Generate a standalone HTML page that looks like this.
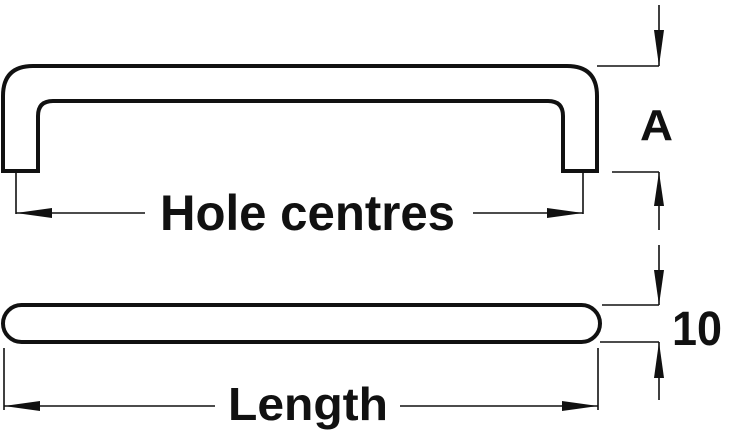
<!DOCTYPE html>
<html><head><style>body{margin:0;background:#fff}svg{display:block}text{font-family:"Liberation Sans",sans-serif;font-weight:bold;fill:#111}</style></head><body>
<svg width="733" height="433" viewBox="0 0 733 433" xmlns="http://www.w3.org/2000/svg">
<g fill="none" stroke="#111" stroke-width="4">
<path d="M3 171 V96 Q3 66 33 66 H567 Q597 66 597 96 V171 H563 V116 Q563 101 548 101 H53 Q38 101 38 116 V171 Z"/>
<rect x="3" y="305" width="597" height="37" rx="18.5"/>
</g>
<g stroke="#111" stroke-width="1.6" fill="none">
<path d="M16 172 V214 M583 172 V214 M16 213 H145 M473 213 H583"/>
<path d="M597 66 H659 M659 5 V66 M612 172 H659 M659 172 V230 M659 245 V305 M602 305 H659 M600 342 H659 M659 342 V400"/>
<path d="M4 348 V410 M598 348 V410 M4 406 H215 M400 406 H598"/>
</g>
<g fill="#111">
<polygon points="16,213 52,208 52,218"/><polygon points="583,213 547,208 547,218"/>
<polygon points="659,66 654,30 664,30"/><polygon points="659,172 654,206 664,206"/>
<polygon points="659,305 654,270 664,270"/><polygon points="659,342 654,378 664,378"/>
<polygon points="4,406 40,401 40,411"/><polygon points="598,406 562,401 562,411"/>
</g>
<text x="160" y="230" font-size="50" textLength="295" lengthAdjust="spacingAndGlyphs">Hole centres</text>
<text x="228" y="420" font-size="46" textLength="160" lengthAdjust="spacingAndGlyphs">Length</text>
<text x="640" y="140" font-size="44" textLength="33" lengthAdjust="spacingAndGlyphs">A</text>
<text x="672" y="345" font-size="48" textLength="50" lengthAdjust="spacingAndGlyphs">10</text>
</svg>
</body></html>
